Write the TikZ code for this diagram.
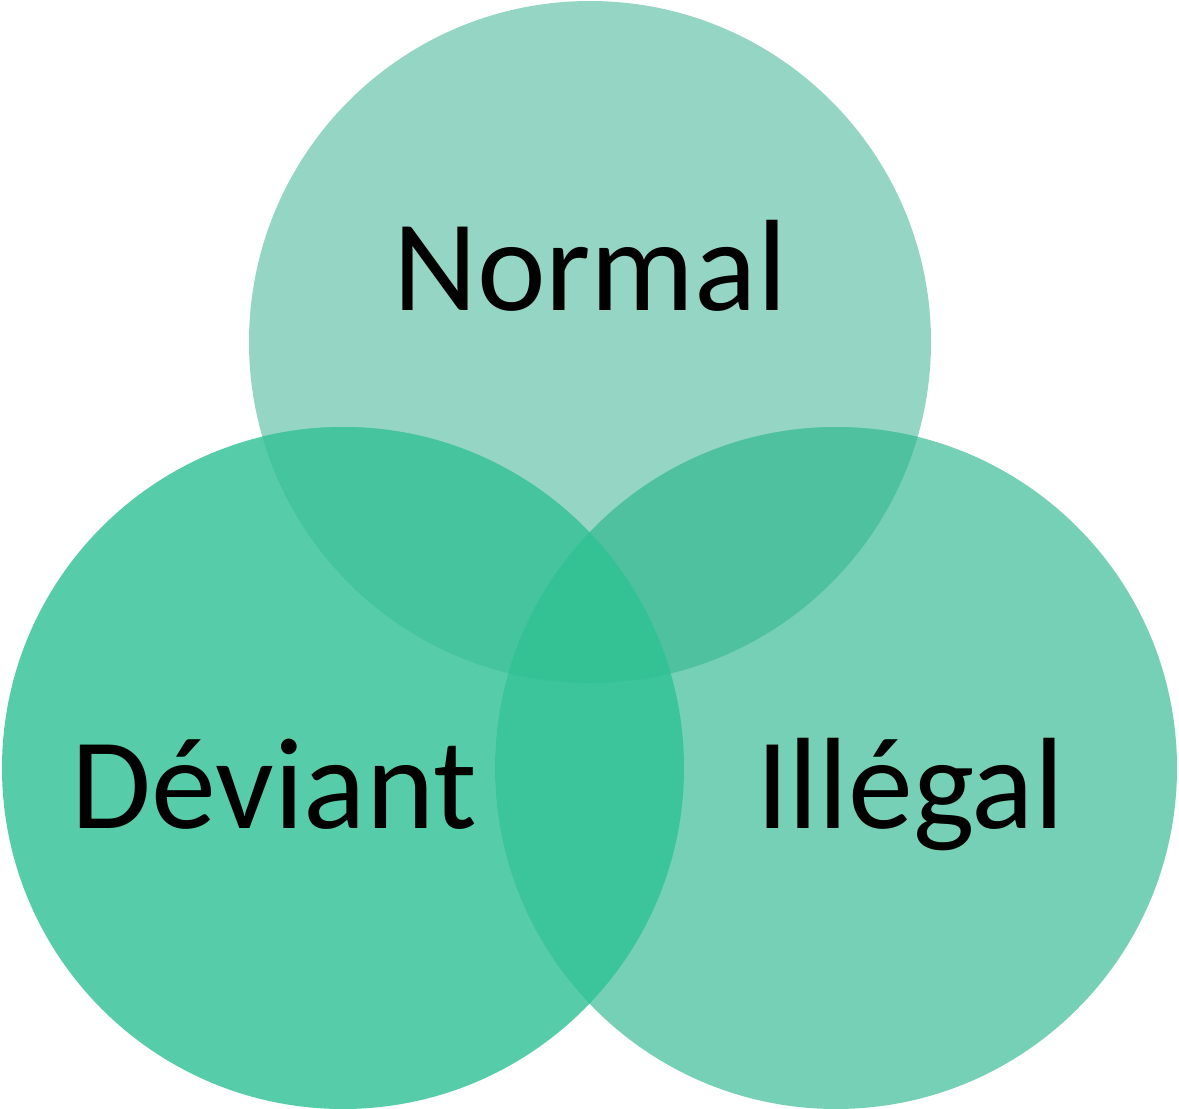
\documentclass[tikz,border=0pt]{standalone}
\usepackage{fontspec}
\setmainfont{Carlito}
\definecolor{cTop}{HTML}{95D5C3}
\definecolor{cLeft}{HTML}{57CCA9}
\definecolor{cRight}{HTML}{75D0B5}
\definecolor{cTL}{HTML}{45C49E}
\definecolor{cTR}{HTML}{50C19E}
\definecolor{cLR}{HTML}{3CC49A}
\definecolor{cAll}{HTML}{34C295}
\begin{document}
\begin{tikzpicture}[x=1pt,y=-1pt,
  lbl/.style={anchor=base,inner sep=0pt,font=\fontsize{130}{140}\selectfont,text=black}]
\useasboundingbox (0,0) rectangle (1179,1109);
\def\ctop{(590,342) circle[radius=341]}
\def\cleft{(343,768) circle[radius=341]}
\def\cright{(836,768) circle[radius=341]}
\fill[cTop] \ctop;
\fill[cLeft] \cleft;
\fill[cRight] \cright;
\begin{scope}
  \clip \ctop;
  \fill[cTL] \cleft;
  \fill[cTR] \cright;
\end{scope}
\begin{scope}
  \clip \cleft;
  \fill[cLR] \cright;
\end{scope}
\begin{scope}
  \clip \ctop;
  \clip \cleft;
  \fill[cAll] \cright;
\end{scope}
\node[lbl] (normal) at (590,310) {Normal};
\node[lbl] (deviant) at (274,828) {Déviant};
\node[lbl] (illegal) at (910,828) {Illégal};
\end{tikzpicture}
\end{document}
